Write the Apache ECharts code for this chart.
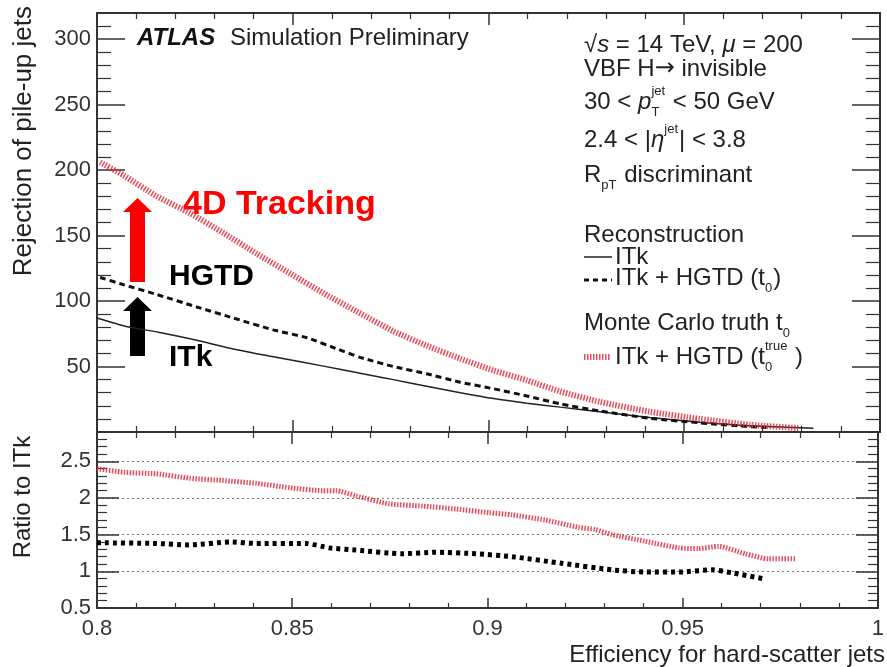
<!DOCTYPE html>
<html>
<head>
<meta charset="utf-8">
<script src="https://cdn.jsdelivr.net/npm/echarts@6/dist/echarts.min.js"></script>
<style>
  html, body { margin: 0; padding: 0; background: #fff; }
  #main { width: 887px; height: 667px; }
</style>
</head>
<body>
<div id="main"></div>
<script>
// values
var effITk = [0.800, 0.807, 0.816, 0.8255, 0.834, 0.844, 0.853, 0.862, 0.8705, 0.8757, 0.8842, 0.8928, 0.9013, 0.9098, 0.9183, 0.9285, 0.9412, 0.954, 0.9668, 0.983];
var rejITk = [87, 81, 76, 70, 64, 58, 53, 48, 43, 40, 35, 30, 25.5, 22, 19, 15.5, 11, 7.5, 4.8, 2.8];

var effHGTD = [0.8008, 0.8068, 0.8153, 0.8255, 0.8349, 0.845, 0.8536, 0.8617, 0.8672, 0.8757, 0.8842, 0.8928, 0.9013, 0.9098, 0.9183, 0.9285, 0.9412, 0.954, 0.9668, 0.971];
var rejHGTD = [118, 112.5, 105, 95.5, 87, 78, 72, 63, 57, 50, 44.5, 38, 33, 27.5, 21.5, 16, 10.5, 7, 4, 3.5];

var effTruth = [0.8008, 0.8068, 0.8153, 0.8238, 0.8323, 0.8409, 0.8494, 0.8579, 0.8664, 0.8757, 0.8842, 0.8928, 0.9013, 0.9098, 0.9183, 0.9285, 0.9412, 0.954, 0.9668, 0.9791];
var rejTruth = [206, 196, 180, 167, 152, 136, 121, 106, 92, 77, 66, 56, 47, 39.5, 31, 23, 15.5, 10, 5.5, 3];

var effRatioTruth = [0.8, 0.807, 0.8152, 0.8237, 0.832, 0.8408, 0.8493, 0.8578, 0.8612, 0.8663, 0.8748, 0.8834, 0.8919, 0.9004, 0.9063, 0.9148, 0.9233, 0.9276, 0.9319, 0.9404, 0.949, 0.954, 0.9592, 0.966, 0.972, 0.9791];
var ratioTruth = [2.40, 2.35, 2.33, 2.27, 2.24, 2.20, 2.14, 2.10, 2.10, 2.03, 1.92, 1.89, 1.85, 1.80, 1.77, 1.70, 1.60, 1.57, 1.50, 1.41, 1.32, 1.31, 1.34, 1.24, 1.17, 1.17];

var effRatioHGTD = [0.8, 0.8152, 0.8237, 0.834, 0.8408, 0.8536, 0.8595, 0.8663, 0.8782, 0.8867, 0.897, 0.9063, 0.919, 0.9319, 0.9404, 0.949, 0.9575, 0.9626, 0.9707];
var ratioHGTD = [1.39, 1.38, 1.36, 1.40, 1.38, 1.38, 1.32, 1.29, 1.24, 1.26, 1.24, 1.20, 1.11, 1.02, 0.99, 0.99, 1.02, 0.98, 0.90];

var topTicks = [50, 100, 150, 200, 250, 300];
var ratioTicks = [0.5, 1, 1.5, 2, 2.5];

function pairs(xs, ys) {
	return xs.map(function(x, i) { return [x, ys[i]]; });
}

var FONT = '"Liberation Sans", Arial, sans-serif';
var AX = '#333';
var RED = 'rgba(225, 45, 60, 0.85)';

// measuring text so sub/superscripts land next to their base
var mctx = document.createElement('canvas').getContext('2d');
function textW(str, size, style, family) {
	mctx.font = (style || '') + ' ' + size + 'px ' + (family || FONT);
	return mctx.measureText(str).width;
}

function txt(x, y, str, size, opts) {
	opts = opts || {};
	return {
		type: 'text', x: x, y: y, silent: true,
		rotation: opts.rotation || 0,
		style: {
			text: str, fill: opts.color || '#222',
			font: (opts.style || '') + ' ' + size + 'px ' + (opts.family || FONT),
			textAlign: opts.align || 'left', textVerticalAlign: 'middle'
		}
	};
}

// one legend line made of pieces, with small raised / lowered parts
function richLine(x, y, pieces) {
	var els = [], cx = x, S = 24, s = 13;
	pieces.forEach(function(p) {
		if (p.t !== undefined) {
			var st = p.it ? 'italic' : '';
			els.push(txt(cx, y, p.t, S, { style: st, family: p.fam }));
			cx += textW(p.t, S, st, p.fam);
		} else {
			var w = 0;
			if (p.sup) { els.push(txt(cx, y - 11, p.sup, s)); w = Math.max(w, textW(p.sup, s)); }
			if (p.sub) { els.push(txt(cx, y + 10, p.sub, s)); w = Math.max(w, textW(p.sub, s)); }
			cx += w + 1;
		}
	});
	return els;
}

var graphics = [];
graphics.push(txt(137, 38, 'ATLAS', 24, { style: 'italic bold', color: '#111' }));
graphics.push(txt(230, 38, 'Simulation Preliminary', 24));

graphics = graphics.concat(
	richLine(584, 45, [{ t: '√' }, { t: 's', it: 1 }, { t: ' = 14 TeV, ' }, { t: 'μ', it: 1 }, { t: ' = 200' }]),
	richLine(584, 69, [{ t: 'VBF H' }, { t: '→', fam: '"DejaVu Sans"' }, { t: ' invisible' }]),
	richLine(584, 102, [{ t: '30 < ' }, { t: 'p', it: 1 }, { sup: 'jet', sub: 'T' }, { t: ' < 50 GeV' }]),
	richLine(584, 140, [{ t: '2.4 < |' }, { t: 'η', it: 1 }, { sup: 'jet' }, { t: '| < 3.8' }]),
	richLine(584, 175, [{ t: 'R' }, { sub: 'pT' }, { t: ' discriminant' }]),
	richLine(584, 235, [{ t: 'Reconstruction' }]),
	richLine(615, 257, [{ t: 'ITk' }]),
	richLine(615, 278, [{ t: 'ITk + HGTD (t' }, { sub: '0' }, { t: ')' }]),
	richLine(584, 323, [{ t: 'Monte Carlo truth t' }, { sub: '0' }]),
	richLine(615, 357, [{ t: 'ITk + HGTD (t' }, { sup: 'true', sub: '0' }, { t: ' )' }])
);

// legend glyphs
graphics.push({ type: 'line', silent: true, shape: { x1: 584, y1: 257, x2: 612, y2: 257 }, style: { stroke: '#222', lineWidth: 1.5 } });
graphics.push({ type: 'line', silent: true, shape: { x1: 584, y1: 280, x2: 612, y2: 280 }, style: { stroke: '#111', lineWidth: 3, lineDash: [5, 4] } });
graphics.push({ type: 'line', silent: true, shape: { x1: 584, y1: 357, x2: 610, y2: 357 }, style: { stroke: RED, lineWidth: 6, lineDash: [1.5, 1.5] } });

// axis titles
graphics.push(txt(24, 6, 'Rejection of pile-up jets', 26, { rotation: Math.PI / 2, align: 'right' }));
graphics.push(txt(23, 497, 'Ratio to ITk', 24, { rotation: Math.PI / 2, align: 'center' }));
graphics.push(txt(885, 655, 'Efficiency for hard-scatter jets', 24, { align: 'right' }));

// added annotation: arrows and labels
graphics.push({ type: 'polygon', silent: true, shape: { points: [[130, 282], [145, 282], [145, 212], [152, 212], [137.5, 198], [123, 212], [130, 212]] }, style: { fill: '#ff0000' } });
graphics.push({ type: 'polygon', silent: true, shape: { points: [[130, 356], [145, 356], [145, 311], [152, 311], [137.5, 297], [123, 311], [130, 311]] }, style: { fill: '#000' } });
graphics.push(txt(183, 205, '4D Tracking', 34, { style: 'bold', color: '#ff0000' }));
graphics.push(txt(169, 277, 'HGTD', 30, { style: 'bold', color: '#000' }));
graphics.push(txt(169, 358, 'ITk', 30, { style: 'bold', color: '#000' }));

function xAx(grid, pos, labels, major, minor) {
	return {
		type: 'value', gridIndex: grid, position: pos, min: 0.8, max: 1, interval: 0.05,
		axisLine: { show: true, onZero: false, lineStyle: { color: AX, width: 2 } },
		axisTick: { show: true, inside: true, length: major, lineStyle: { color: AX, width: 1.5 } },
		minorTick: { show: true, splitNumber: 5, length: minor, lineStyle: { color: AX, width: 1.2 } },
		axisLabel: { show: labels, color: '#333', fontSize: 22, fontFamily: FONT, margin: 10 },
		splitLine: { show: false }
	};
}

function yAx(grid, pos, labels, min, max, step, ticks, major, minor, grid2) {
	return {
		type: 'value', gridIndex: grid, position: pos, min: min, max: max, interval: step,
		axisLine: { show: true, onZero: false, lineStyle: { color: AX, width: 2 } },
		axisTick: { show: true, inside: true, length: major, lineStyle: { color: AX, width: 1.5 } },
		minorTick: { show: true, splitNumber: 5, length: minor, lineStyle: { color: AX, width: 1.2 } },
		axisLabel: {
			show: labels, color: '#333', fontSize: 22, fontFamily: FONT, margin: 6,
			formatter: function(v) {
				return ticks.some(function(t) { return Math.abs(t - v) < 1e-6; }) ? String(v) : '';
			}
		},
		splitLine: grid2 ? { show: true, lineStyle: { color: '#777', type: [2, 3], width: 1.2 } } : { show: false }
	};
}

var myChart = echarts.init(document.getElementById('main'));

var option = {
	animation: false,
	backgroundColor: '#fff',
	grid: [
		{ left: 97, right: 7, top: 13, height: 419 },
		{ left: 97, right: 7, top: 432, height: 176 }
	],
	xAxis: [
		xAx(0, 'bottom', false, 12, 6),
		xAx(0, 'top', false, 12, 6),
		xAx(1, 'top', false, 12, 6),
		xAx(1, 'bottom', true, 10, 5)
	],
	yAxis: [
		yAx(0, 'left', true, 0, 320, 50, topTicks, 28, 14, false),
		yAx(0, 'right', false, 0, 320, 50, topTicks, 28, 14, false),
		yAx(1, 'left', true, 0.5, 2.9, 0.5, ratioTicks, 22, 10, true),
		yAx(1, 'right', false, 0.5, 2.9, 0.5, ratioTicks, 22, 10, false)
	],
	series: [
		{
			name: 'ITk', type: 'line', xAxisIndex: 0, yAxisIndex: 0,
			data: pairs(effITk, rejITk), showSymbol: false, smooth: 0.2,
			lineStyle: { color: '#222', width: 1.5 }
		},
		{
			name: 'ITk + HGTD (t0)', type: 'line', xAxisIndex: 0, yAxisIndex: 0,
			data: pairs(effHGTD, rejHGTD), showSymbol: false, smooth: 0.2,
			lineStyle: { color: '#111', width: 3, type: [6, 4] }
		},
		{
			name: 'ITk + HGTD (t0 true)', type: 'line', xAxisIndex: 0, yAxisIndex: 0,
			data: pairs(effTruth, rejTruth), showSymbol: false, smooth: 0.2,
			lineStyle: { color: RED, width: 6, type: [1.5, 1.5] }
		},
		{
			name: 'ratio truth', type: 'line', xAxisIndex: 3, yAxisIndex: 2,
			data: pairs(effRatioTruth, ratioTruth), showSymbol: false, smooth: 0.2,
			lineStyle: { color: RED, width: 5, type: [1.5, 1.5] }
		},
		{
			name: 'ratio HGTD', type: 'line', xAxisIndex: 3, yAxisIndex: 2,
			data: pairs(effRatioHGTD, ratioHGTD), showSymbol: false, smooth: 0.2,
			lineStyle: { color: '#000', width: 5, type: [4, 4] }
		}
	],
	graphic: graphics
};

myChart.setOption(option);
</script>
</body>
</html>
